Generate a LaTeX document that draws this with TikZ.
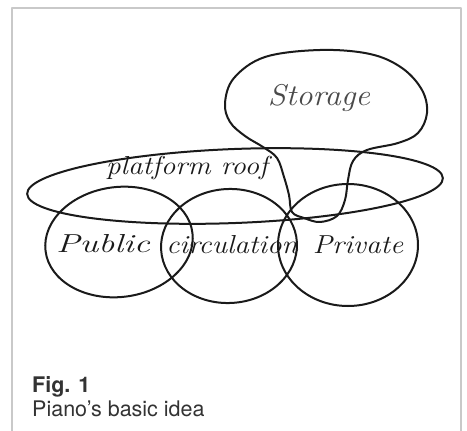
\documentclass[tikz,border=0pt]{standalone}
\usepackage{fontspec}
\newfontfamily\capfont{TeX Gyre Heros}
\definecolor{ink}{HTML}{1A1A1A}
\definecolor{pencil}{HTML}{4A4A4A}
\definecolor{edge}{HTML}{C9C9C9}
\definecolor{caption}{HTML}{333333}

\begin{document}
\begin{tikzpicture}[x=1pt,y=-1pt,line join=round,line cap=round,
  zone/.style={ink,line width=2pt},
  hand/.style={font=\fontsize{26}{28}\selectfont\itshape,text=ink,
    inner sep=0pt,xscale=1.12,transform shape}]
  \useasboundingbox (0,0) rectangle (467,431);
  \fill[white] (0,0) rectangle (467,431);
  % page frame, open at the bottom
  \draw[edge,line width=1.3pt] (12,431)--(12,8)--(461,8)--(461,431);

  % Platform roof
  \draw[zone,rotate around={2.2:(235,186)}] (235,186) ellipse (208 and 37);

  % Three zones under the roof
  \draw[zone,rotate around={7:(119,242)}] (119,242) ellipse (74 and 55);
  \draw[zone,rotate around={3:(229,246)}] (229,246) ellipse (68 and 57);
  \draw[zone] (348,245) ellipse (70 and 61);

  % Storage balloon, tied into the roof
  \draw[zone] plot[smooth cycle,tension=.6] coordinates {
    (292,212) (289,195) (284,177) (277,158) (263,147) (245,136)
    (230,122) (225,103) (234,78) (265,57) (320,50) (370,54)
    (402,68) (422,90) (427,113) (418,133) (398,143) (367,150)
    (353,161) (348,180) (345,200) (337,216) (320,222) (304,218)};

  \node[hand,text=pencil,font=\fontsize{30}{32}\selectfont\itshape,xscale=.97]
    (storage) at (319,98) {Storage};
  \node[hand] (roof) at (187,168) {platform roof};
  \node[hand,xscale=1.22] (public) at (103,244) {Public};
  \node[hand] (circulation) at (232,245) {circulation};
  \node[hand] (private) at (358,245) {Private};

  % Caption
  \node[anchor=base west,inner sep=0pt,font=\capfont\bfseries\fontsize{21.5}{24}\selectfont,
    text=caption] (figno) at (32,392) {Fig. 1};
  \node[anchor=base west,inner sep=0pt,font=\capfont\fontsize{21.5}{24}\selectfont,
    text=caption] (legend) at (32,416) {Piano’s basic idea};
\end{tikzpicture}
\end{document}
